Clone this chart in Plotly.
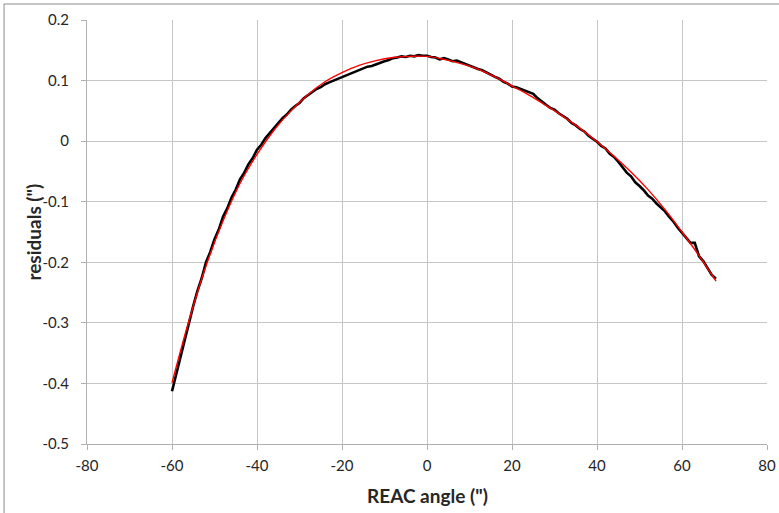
import plotly.graph_objects as go

# Measured residuals vs. REAC angle (one sample per arcsecond)
angle = list(range(-60, 69))
residuals = [
    -0.413, -0.385, -0.352, -0.324, -0.297, -0.272, -0.247, -0.226, -0.200, -0.183,
    -0.162, -0.146, -0.125, -0.111, -0.093, -0.080, -0.063, -0.052, -0.038, -0.028,
    -0.014, -0.006, 0.005, 0.013, 0.022, 0.029, 0.038, 0.044, 0.052, 0.058,
    0.063, 0.071, 0.076, 0.080, 0.086, 0.089, 0.094, 0.097, 0.100, 0.103,
    0.106, 0.109, 0.111, 0.115, 0.117, 0.120, 0.123, 0.124, 0.127, 0.129,
    0.132, 0.134, 0.137, 0.138, 0.140, 0.139, 0.141, 0.140, 0.142, 0.141,
    0.141, 0.139, 0.138, 0.135, 0.137, 0.135, 0.132, 0.133, 0.130, 0.128,
    0.125, 0.122, 0.119, 0.117, 0.113, 0.110, 0.106, 0.103, 0.098, 0.095,
    0.090, 0.089, 0.086, 0.083, 0.081, 0.078, 0.071, 0.065, 0.060, 0.055,
    0.052, 0.046, 0.041, 0.037, 0.030, 0.026, 0.020, 0.016, 0.009, 0.004,
    -0.001, -0.008, -0.012, -0.021, -0.026, -0.034, -0.044, -0.052, -0.058, -0.068,
    -0.074, -0.081, -0.090, -0.095, -0.103, -0.110, -0.116, -0.125, -0.133, -0.143,
    -0.152, -0.160, -0.168, -0.168, -0.190, -0.198, -0.209, -0.221, -0.227,
]

# Fitted trend through the residuals
fit_angle = [-60, -56, -52, -48, -44, -40, -36, -32, -28, -24, -20, -16, -12, -8, -4,
             0, 4, 8, 12, 16, 20, 24, 28, 32, 36, 40, 44, 48, 52, 56, 60, 64, 68]
fit_residuals = [-0.399, -0.296, -0.206, -0.132, -0.070, -0.022, 0.018, 0.050, 0.077,
                 0.098, 0.113, 0.125, 0.133, 0.138, 0.140, 0.140, 0.135, 0.128, 0.119,
                 0.106, 0.091, 0.076, 0.059, 0.041, 0.021, -0.001, -0.025, -0.051,
                 -0.080, -0.113, -0.150, -0.189, -0.231]

x_ticks = [-80, -60, -40, -20, 0, 20, 40, 60, 80]
y_ticks = [-0.5, -0.4, -0.3, -0.2, -0.1, 0, 0.1, 0.2]
x_tick_text = ["-80", "-60", "-40", "-20", "0", "20", "40", "60", "80"]
y_tick_text = ["-0.5", "-0.4", "-0.3", "-0.2", "-0.1", "0", "0.1", "0.2"]

FONT = "Lato, Carlito, Calibri, 'Liberation Sans', sans-serif"

fig = go.Figure()
fig.add_trace(go.Scatter(x=angle, y=residuals, mode="lines",
                         line=dict(color="#000000", width=2.6), showlegend=False))
fig.add_trace(go.Scatter(x=fit_angle, y=fit_residuals, mode="lines",
                         line=dict(color="#ff0000", width=1.4, shape="spline"),
                         showlegend=False))

axis_common = dict(showgrid=True, gridcolor="#c6c6c6", gridwidth=1,
                   showline=True, linecolor="#b0b0b0", linewidth=1,
                   ticks="outside", ticklen=5, tickcolor="#b0b0b0",
                   zeroline=False, automargin=False,
                   tickfont=dict(family=FONT, size=15, color="#262626"))

fig.update_xaxes(range=[-80, 80], tickvals=x_ticks, ticktext=x_tick_text,
                 ticklabelstandoff=3, **axis_common)
fig.update_yaxes(range=[-0.5, 0.2], tickvals=y_ticks, ticktext=y_tick_text,
                 ticklabelstandoff=9, **axis_common)

fig.update_layout(
    width=779, height=513,
    margin=dict(l=87, r=12, t=20, b=69),
    paper_bgcolor="white", plot_bgcolor="white",
    annotations=[
        dict(text='REAC angle (")', xref="paper", yref="paper", x=0.5, y=-0.122,
             xanchor="center", yanchor="middle", showarrow=False,
             font=dict(family=FONT, size=19, color="#262626", weight="bold")),
        dict(text='residuals (")', xref="paper", yref="paper", x=-0.08, y=0.5,
             xanchor="center", yanchor="middle", showarrow=False, textangle=-90,
             font=dict(family=FONT, size=19, color="#262626", weight="bold")),
    ],
    shapes=[
        dict(type="line", xref="paper", yref="paper", x0=-0.122, x1=-0.122,
             y0=-0.2, y1=1.0377, line=dict(color="#8c8c8c", width=1)),
        dict(type="line", xref="paper", yref="paper", x0=-0.122, x1=1.05,
             y0=1.0377, y1=1.0377, line=dict(color="#8c8c8c", width=1)),
    ],
)

fig.write_html("out.html")
